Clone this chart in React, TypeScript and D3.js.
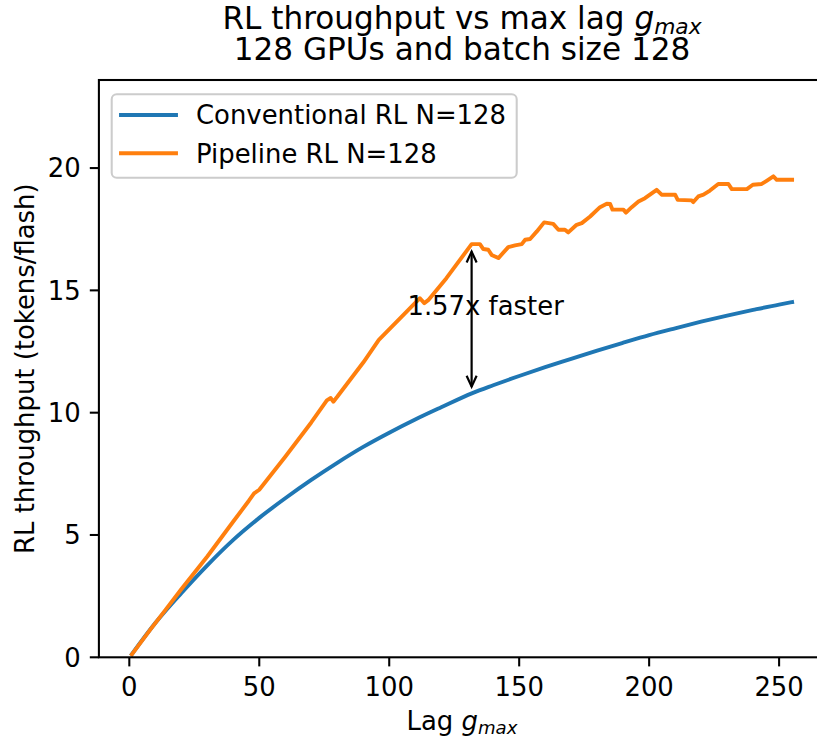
import React from "react";
import * as d3 from "d3";

const conventionalLag = [1, 10, 20, 30, 40, 50, 60, 70, 80, 90, 100, 110, 120, 132, 140, 150, 160, 170, 180, 190, 200, 210, 220, 230, 240, 250, 255];
const conventionalThroughput = [0.13, 1.4, 2.62, 3.76, 4.8, 5.7, 6.5, 7.25, 7.95, 8.6, 9.18, 9.72, 10.22, 10.8, 11.12, 11.5, 11.86, 12.2, 12.54, 12.86, 13.17, 13.45, 13.72, 13.97, 14.2, 14.42, 14.52];

const pipelineLag = [1, 8, 14, 20, 30, 40, 46, 48, 50, 60, 70, 76, 77.5, 78.5, 80, 90, 96, 105, 111.8, 113.5, 115, 122, 131.7, 134.9, 136.2, 138.1, 139.4, 142, 145.8, 148.4, 151, 152.3, 154.2, 156.8, 159.6, 163.1, 165.1, 167.6, 168.9, 172.1, 174.1, 177.3, 181.1, 183.7, 185, 185.9, 190.1, 191.1, 193.3, 195.9, 198.4, 202.9, 204.8, 210, 211, 216.4, 217, 218.9, 220.9, 223.4, 226.6, 230.5, 231.8, 237.6, 239.9, 243.3, 245.2, 247.8, 249.1, 255];
const pipelineThroughput = [0.12, 1.12, 1.95, 2.78, 4.12, 5.55, 6.4, 6.7, 6.85, 8.2, 9.6, 10.5, 10.6, 10.45, 10.65, 12.05, 12.98, 13.95, 14.68, 14.48, 14.6, 15.5, 16.89, 16.89, 16.69, 16.66, 16.45, 16.32, 16.77, 16.84, 16.89, 17.07, 17.1, 17.41, 17.78, 17.72, 17.48, 17.48, 17.37, 17.68, 17.75, 18.02, 18.4, 18.54, 18.53, 18.3, 18.3, 18.18, 18.4, 18.63, 18.77, 19.11, 18.91, 18.91, 18.7, 18.68, 18.61, 18.84, 18.91, 19.08, 19.35, 19.35, 19.14, 19.14, 19.32, 19.35, 19.48, 19.66, 19.52, 19.52];

const xTicks = [0, 50, 100, 150, 200, 250];
const yTicks = [0, 5, 10, 15, 20];
const seriesNames = ["Conventional RL N=128", "Pipeline RL N=128"];
const seriesColors = ["#1f77b4", "#ff7f0e"];

const annotationLag = [131.7];
const annotationRange = [16.8, 10.85];
const annotationTextPos = [107, 14];
const annotationText = "1.57x faster";

const FONT = "DejaVu Sans, sans-serif";

export default function App() {
  const W = 817, H = 740;
  const x = d3.scaleLinear().domain([-11.7, 267.7]).range([98.9, 825.1]);
  const y = d3.scaleLinear().domain([0, 23.6]).range([657.3, 80]);
  const [x0, x1] = x.range();
  const [yb, yt] = y.range();

  const convPts = conventionalLag.map((l, i) => [l, conventionalThroughput[i]] as [number, number]);
  const pipePts = pipelineLag.map((l, i) => [l, pipelineThroughput[i]] as [number, number]);
  const smooth = d3.line<[number, number]>().x(d => x(d[0])).y(d => y(d[1])).curve(d3.curveMonotoneX);
  const straight = d3.line<[number, number]>().x(d => x(d[0])).y(d => y(d[1]));

  const ax = x(annotationLag[0]);
  const shrink = 5.2;
  const aTop = y(annotationRange[0]) + shrink;
  const aBot = y(annotationRange[1]) - shrink;
  const hl = 11, hw = 5;

  const fs = 25.9;
  const tfs = 31.1;
  const tick = 9.1;
  const lw = 3.9;
  const sw = 2.07;
  const cx = (x0 + x1) / 2;
  return (
    <svg width={W} height={H} style={{ position: "absolute", left: 0, top: 0, background: "#fff" }} fontFamily={FONT}>
      <rect x={0} y={0} width={W} height={H} fill="#fff" />
      <path d={smooth(convPts) || ""} fill="none" stroke={seriesColors[0]} strokeWidth={lw} strokeLinejoin="round" strokeLinecap="square" />
      <path d={straight(pipePts) || ""} fill="none" stroke={seriesColors[1]} strokeWidth={lw} strokeLinejoin="round" strokeLinecap="square" />
      <g stroke="#000" strokeWidth={2.2} fill="none" strokeLinecap="butt" strokeLinejoin="miter">
        <line x1={ax} x2={ax} y1={aTop} y2={aBot} />
        <path d={`M${ax - hw},${aTop + hl} L${ax},${aTop} L${ax + hw},${aTop + hl}`} />
        <path d={`M${ax - hw},${aBot - hl} L${ax},${aBot} L${ax + hw},${aBot - hl}`} />
      </g>
      <text x={x(annotationTextPos[0])} y={y(annotationTextPos[1])} fontSize={fs} fill="#000">{annotationText}</text>
      <rect x={x0} y={yt} width={x1 - x0} height={yb - yt} stroke="#000" strokeWidth={sw} fill="none" />
      {xTicks.map(t => (
        <g key={"x" + t}>
          <line x1={x(t)} x2={x(t)} y1={yb} y2={yb + tick} stroke="#000" strokeWidth={sw} />
          <text x={x(t)} y={yb + 38.7} textAnchor="middle" fontSize={fs}>{t}</text>
        </g>
      ))}
      {yTicks.map(t => (
        <g key={"y" + t}>
          <line x1={x0} x2={x0 - tick} y1={y(t)} y2={y(t)} stroke="#000" strokeWidth={sw} />
          <text x={x0 - 2 * tick} y={y(t) + 9.4} textAnchor="end" fontSize={fs}>{t}</text>
        </g>
      ))}
      <text x={cx} y={730} textAnchor="middle" fontSize={fs}>
        Lag <tspan fontStyle="italic">g</tspan>
        <tspan fontStyle="italic" fontSize={fs * 0.7} dy={4}>max</tspan>
      </text>
      <text transform={`translate(34,${(yt + yb) / 2}) rotate(-90)`} textAnchor="middle" fontSize={fs}>
        RL throughput (tokens/flash)
      </text>
      <text x={cx} y={29} textAnchor="middle" fontSize={tfs}>
        RL throughput vs max lag <tspan fontStyle="italic">g</tspan>
        <tspan fontStyle="italic" fontSize={tfs * 0.7} dy={5}>max</tspan>
      </text>
      <text x={cx} y={59.5} textAnchor="middle" fontSize={tfs}>
        128 GPUs and batch size 128
      </text>
      <rect x={111.7} y={94.3} width={405} height={83.4} rx={5} ry={5} fill="#fff" fillOpacity={0.8} stroke="#cccccc" strokeWidth={sw} />
      {seriesNames.map((n, i) => (
        <g key={n}>
          <line x1={121} x2={176} y1={115 + i * 38.3} y2={115 + i * 38.3} stroke={seriesColors[i]} strokeWidth={lw} strokeLinecap="square" />
          <text x={196} y={115 + i * 38.3 + 9.2} fontSize={fs}>{n}</text>
        </g>
      ))}
    </svg>
  );
}
